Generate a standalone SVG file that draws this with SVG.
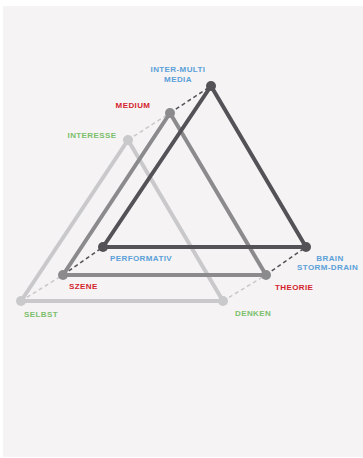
<svg xmlns="http://www.w3.org/2000/svg" width="363" height="458" viewBox="0 0 363 458">
<style>
.t{font-family:"Liberation Sans",Arial,sans-serif;font-weight:bold;font-size:8px;letter-spacing:0.4px}
.b{fill:#5aa0d8}.r{fill:#d41f2f}.g{fill:#7cbf6c}
.l{stroke:#c9c9cb}.m{stroke:#8b8a8d}.d{stroke:#545256}
.tri{fill:none;stroke-width:4;stroke-linejoin:round}
.dash{stroke-width:1.5;stroke-dasharray:4 3}
</style>
<rect width="363" height="458" fill="#ffffff"/>
<rect x="3" y="6" width="360" height="451" fill="#f5f3f4"/>
<g id="connectors">
<line class="dash l" x1="128" y1="140" x2="170" y2="113"/>
<line class="dash d" x1="170" y1="113" x2="211" y2="86"/>
<line class="dash l" x1="21" y1="301" x2="63" y2="275"/>
<line class="dash d" x1="63" y1="275" x2="103" y2="247"/>
<line class="dash l" x1="223" y1="301" x2="266" y2="275"/>
<line class="dash d" x1="266" y1="275" x2="306" y2="247"/>
<polygon class="tri l" points="128,140 21,301 223,301"/>
<polygon class="tri m" points="170,113 63,275 266,275"/>
<polygon class="tri d" points="211,86 103,247 306,247"/>
</g>
<g id="interesse"><circle cx="128" cy="140" r="5" fill="#c9c9cb"/><text class="t g" x="92" y="138" text-anchor="middle">INTERESSE</text></g>
<g id="selbst"><circle cx="21" cy="301" r="5" fill="#c9c9cb"/><text class="t g" x="24" y="317">SELBST</text></g>
<g id="denken"><circle cx="223" cy="301" r="5" fill="#c9c9cb"/><text class="t g" x="235" y="316">DENKEN</text></g>
<g id="medium"><circle cx="170" cy="113" r="5" fill="#8b8a8d"/><text class="t r" x="133" y="108" text-anchor="middle">MEDIUM</text></g>
<g id="szene"><circle cx="63" cy="275" r="5" fill="#8b8a8d"/><text class="t r" x="69" y="289">SZENE</text></g>
<g id="theorie"><circle cx="266" cy="275" r="5" fill="#8b8a8d"/><text class="t r" x="275" y="290">THEORIE</text></g>
<g id="intermulti"><circle cx="211" cy="86" r="5" fill="#545256"/><text class="t b" x="178" y="72" text-anchor="middle">INTER-MULTI</text><text class="t b" x="178" y="82" text-anchor="middle">MEDIA</text></g>
<g id="performativ"><circle cx="103" cy="247" r="5" fill="#545256"/><text class="t b" x="110" y="261">PERFORMATIV</text></g>
<g id="brain"><circle cx="306" cy="247" r="5" fill="#545256"/><text class="t b" x="330" y="261" text-anchor="middle">BRAIN</text><text class="t b" x="297" y="270">STORM-DRAIN</text></g>
</svg>
